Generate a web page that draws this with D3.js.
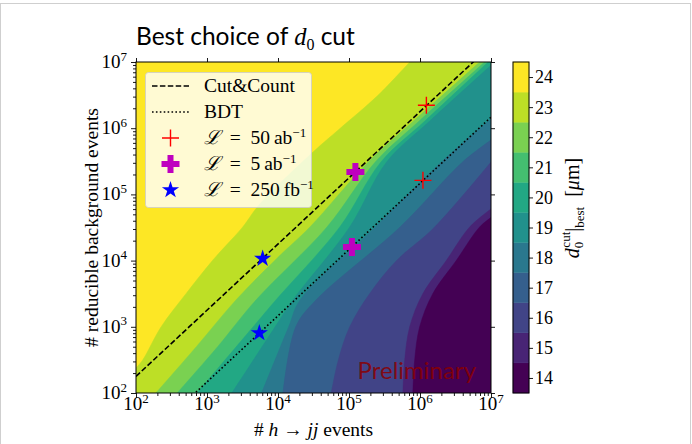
<!DOCTYPE html>
<html>
<head>
<meta charset="utf-8">
<script src="https://cdn.jsdelivr.net/npm/d3@7"></script>
<style>
  body { margin: 0; background: #fff; }
  svg { display: block; }
</style>
</head>
<body>
<svg id="chart" width="692" height="444"></svg>
<script>
// Best d0 cut (micrometres) as a function of signal and background yields.
const levels = [14, 15, 16, 17, 18, 19, 20, 21, 22, 23, 24];
const decadeExponents = [2, 3, 4, 5, 6, 7];

// Band edges as [log10 N(h->jj), log10 N(background)] pairs.
// edgeK separates level K (upper left) from level K-1 (lower right).
const edge24 = [[2.0, 2.378], [2.094, 2.498], [2.352, 2.997], [2.704, 3.5], [3.08, 4.005], [3.503, 4.508], [3.732, 4.84], [4.493, 5.64], [4.869, 5.992], [5.408, 6.497], [5.855, 7.0]];
const edge23 = [[2.28, 2.0], [2.85, 2.7], [3.408, 3.405], [4.0, 4.05], [4.45, 4.508], [5.27, 5.49], [5.92, 6.12], [6.84, 7.0]];
const edge22 = [[2.58, 2.0], [3.15, 2.7], [3.69, 3.405], [4.69, 4.508], [5.37, 5.49], [6.0, 6.12], [6.91, 7.0]];
const edge21 = [[2.86, 2.0], [3.65, 3.0], [3.97, 3.405], [4.87, 4.508], [5.45, 5.49], [6.08, 6.12], [6.96, 7.0]];
const edge20 = [[3.35, 2.0], [3.96, 3.0], [4.21, 3.405], [5.01, 4.508], [5.53, 5.49], [6.15, 6.12], [7.0, 6.95]];
const edge19 = [[3.77, 2.0], [4.15, 3.0], [4.31, 3.405], [5.37, 4.508], [6.3, 5.49], [7.0, 6.14]];
const edge18 = [[4.07, 2.0], [4.25, 3.0], [4.535, 3.405], [5.72, 4.508], [6.6, 5.49], [7.0, 5.82]];
const edge17 = [[4.75, 2.0], [4.85, 2.5], [5.01, 3.0], [5.29, 3.5], [5.67, 4.0], [6.2, 4.5], [7.0, 5.49]];
const edge16 = [[5.76, 2.0], [5.785, 2.5], [5.855, 3.0], [6.04, 3.5], [6.37, 4.0], [6.7, 4.508], [7.0, 4.78]];
const edge15 = [[5.9, 2.0], [5.925, 2.5], [5.995, 3.0], [6.18, 3.5], [6.51, 4.0], [6.84, 4.508], [7.0, 4.65]];

// Working points: signal and background yields for each luminosity.
const lumiValues = ["50", "5", "250"];
const lumiUnits = ["ab", "ab", "fb"];
const cutCountSignal = [1.23e6, 1.23e5, 6080];
const cutCountBackground = [2.22e6, 2.18e5, 1.07e4];
const bdtSignal = [1.10e6, 1.10e5, 5460];
const bdtBackground = [1.63e5, 1.60e4, 806];
// background per signal event along each selection
const cutCountRatio = 1.78;
const bdtRatio = 0.147;

const plot = { x0: 136, x1: 491, y0: 62, y1: 393 };
const serif = "'Liberation Serif', 'DejaVu Serif', serif";

const svg = d3.select("#chart");

// light frame round the figure
svg.append("rect")
  .attr("x", 0.5).attr("y", 3.5).attr("width", 690).attr("height", 445)
  .attr("fill", "none").attr("stroke", "#cfcfcf").attr("stroke-width", 1);

const x = d3.scaleLog().domain([1e2, 1e7]).range([plot.x0, plot.x1]);
const y = d3.scaleLog().domain([1e2, 1e7]).range([plot.y1, plot.y0]);
const color = v => d3.interpolateViridis((v - levels[0]) / (levels[levels.length - 1] - levels[0]));
const pow10 = e => Math.pow(10, e);

svg.append("defs").append("clipPath").attr("id", "plotClip")
  .append("rect")
  .attr("x", plot.x0).attr("y", plot.y0)
  .attr("width", plot.x1 - plot.x0).attr("height", plot.y1 - plot.y0);

const field = svg.append("g").attr("clip-path", "url(#plotClip)");

// highest level fills the whole panel, lower bands are laid on top
field.append("rect")
  .attr("x", plot.x0).attr("y", plot.y0)
  .attr("width", plot.x1 - plot.x0).attr("height", plot.y1 - plot.y0)
  .attr("fill", color(24));

const edgeLine = d3.line()
  .x(d => x(pow10(d[0])))
  .y(d => y(pow10(d[1])))
  .curve(d3.curveCatmullRom.alpha(0.5));

const [uMin, uMax] = x.domain().map(Math.log10);
const [vMin, vMax] = y.domain().map(Math.log10);

function bandBelow(edge) {
  const first = edge[0], last = edge[edge.length - 1];
  const corners = [];
  if (last[1] >= vMax) corners.push([uMax, vMax]);
  corners.push([uMax, vMin]);
  if (first[0] <= uMin) corners.push([uMin, vMin]);
  return edgeLine(edge) +
    corners.map(c => `L${x(pow10(c[0]))},${y(pow10(c[1]))}`).join("") + "Z";
}

const bands = [
  { level: 23, edge: edge24 }, { level: 22, edge: edge23 }, { level: 21, edge: edge22 },
  { level: 20, edge: edge21 }, { level: 19, edge: edge20 }, { level: 18, edge: edge19 },
  { level: 17, edge: edge18 }, { level: 16, edge: edge17 }, { level: 15, edge: edge16 },
  { level: 14, edge: edge15 }
];

field.selectAll("path.band")
  .data(bands)
  .join("path")
  .attr("class", "band")
  .attr("d", d => bandBelow(d.edge))
  .attr("fill", d => color(d.level))
  .attr("stroke", d => color(d.level))
  .attr("stroke-width", 0.5);

// selection lines
const lineX = x.domain();
const selLine = d3.line().x(d => x(d[0])).y(d => y(d[1]));
field.append("path")
  .attr("d", selLine(lineX.map(v => [v, v * cutCountRatio])))
  .attr("fill", "none").attr("stroke", "#000").attr("stroke-width", 1.6)
  .attr("stroke-dasharray", "5.5,2.4");
field.append("path")
  .attr("d", selLine(lineX.map(v => [v, v * bdtRatio])))
  .attr("fill", "none").attr("stroke", "#000").attr("stroke-width", 1.6)
  .attr("stroke-dasharray", "1.6,2.3");

// marker shapes
const markers = [
  { name: "thinPlus", color: "#ff0000" },
  { name: "fatPlus", color: "#bf00bf" },
  { name: "star", color: "#0000ff" }
];
function drawMarker(g, kind, cx, cy) {
  if (kind === "thinPlus") {
    const h = 8.5;
    g.append("path")
      .attr("d", `M${cx - h},${cy}H${cx + h}M${cx},${cy - h}V${cy + h}`)
      .attr("stroke", markers[0].color).attr("stroke-width", 1.4).attr("fill", "none");
  } else if (kind === "fatPlus") {
    g.append("path")
      .attr("transform", `translate(${cx},${cy})`)
      .attr("d", d3.symbol(d3.symbolCross, 180)())
      .attr("fill", markers[1].color);
  } else {
    g.append("path")
      .attr("transform", `translate(${cx},${cy})`)
      .attr("d", d3.symbol(d3.symbolStar, 92)())
      .attr("fill", markers[2].color);
  }
}

const pts = field.append("g");
markers.forEach((m, i) => {
  drawMarker(pts, m.name, x(cutCountSignal[i]), y(cutCountBackground[i]));
  drawMarker(pts, m.name, x(bdtSignal[i]), y(bdtBackground[i]));
});

// frame
svg.append("rect")
  .attr("x", plot.x0).attr("y", plot.y0)
  .attr("width", plot.x1 - plot.x0).attr("height", plot.y1 - plot.y0)
  .attr("fill", "none").attr("stroke", "#000").attr("stroke-width", 1);

// axes
const majors = decadeExponents.map(pow10);
const minors = x.ticks().filter(v => !majors.some(m => Math.abs(m - v) / m < 1e-9));

function styleAxis(g) {
  g.select(".domain").remove();
  g.selectAll(".tick line").attr("stroke", "#000").attr("stroke-width", 0.9);
  g.selectAll(".tick text").remove();
}

svg.append("g").attr("transform", `translate(0,${plot.y1})`)
  .call(d3.axisBottom(x).tickValues(majors).tickSize(5).tickFormat("")).call(styleAxis);
svg.append("g").attr("transform", `translate(0,${plot.y1})`)
  .call(d3.axisBottom(x).tickValues(minors).tickSize(3).tickFormat("")).call(styleAxis);
svg.append("g").attr("transform", `translate(${plot.x0},0)`)
  .call(d3.axisLeft(y).tickValues(majors).tickSize(5).tickFormat("")).call(styleAxis);
svg.append("g").attr("transform", `translate(${plot.x0},0)`)
  .call(d3.axisLeft(y).tickValues(minors).tickSize(3).tickFormat("")).call(styleAxis);
svg.append("g").attr("transform", `translate(0,${plot.y0})`)
  .call(d3.axisTop(x).tickValues(majors).tickSize(4).tickFormat("")).call(styleAxis);
svg.append("g").attr("transform", `translate(${plot.x1},0)`)
  .call(d3.axisRight(y).tickValues(majors).tickSize(4).tickFormat("")).call(styleAxis);

function powerText(sel, e) {
  sel.append("tspan").text("10");
  sel.append("tspan").attr("dy", -7.5).attr("font-size", 13).text(e);
}

svg.append("g").selectAll("text")
  .data(decadeExponents)
  .join("text")
  .attr("x", e => x(pow10(e)))
  .attr("y", plot.y1 + 17)
  .attr("text-anchor", "middle")
  .attr("font-family", serif).attr("font-size", 19)
  .each(function (e) { powerText(d3.select(this), e); });

svg.append("g").selectAll("text")
  .data(decadeExponents)
  .join("text")
  .attr("x", plot.x0 - 9)
  .attr("y", e => y(pow10(e)) + 6)
  .attr("text-anchor", "end")
  .attr("font-family", serif).attr("font-size", 19)
  .each(function (e) { powerText(d3.select(this), e); });

// axis titles
const xt = svg.append("text")
  .attr("x", (plot.x0 + plot.x1) / 2).attr("y", 436)
  .attr("text-anchor", "middle")
  .attr("font-family", serif).attr("font-size", 19.5);
xt.append("tspan").text("# ");
xt.append("tspan").attr("font-style", "italic").text("h");
xt.append("tspan").text(" \u2192 ");
xt.append("tspan").attr("font-style", "italic").text("jj");
xt.append("tspan").text(" events");

svg.append("text")
  .attr("transform", `translate(98,${(plot.y0 + plot.y1) / 2}) rotate(-90)`)
  .attr("text-anchor", "middle")
  .attr("font-family", serif).attr("font-size", 19.5)
  .text("# reducible background events");

// title
const tt = svg.append("text")
  .attr("x", plot.x0).attr("y", 45)
  .attr("font-family", "Lato, 'DejaVu Sans', sans-serif").attr("font-size", 24.5);
tt.append("tspan").text("Best choice of ");
tt.append("tspan").attr("font-family", serif).attr("font-style", "italic").text("d");
tt.append("tspan").attr("font-family", serif).attr("font-size", 16).attr("dy", 5).text("0");
tt.append("tspan").attr("dy", -5).text(" cut");

// colour bar
const cb = { x: 513, w: 16 };
const cbScale = d3.scaleLinear()
  .domain([levels[0] - 0.5, levels[levels.length - 1] + 0.5])
  .range([plot.y1, plot.y0]);

svg.append("g").selectAll("rect")
  .data(levels)
  .join("rect")
  .attr("x", cb.x)
  .attr("y", d => cbScale(d + 0.5))
  .attr("width", cb.w)
  .attr("height", d => cbScale(d - 0.5) - cbScale(d + 0.5))
  .attr("fill", d => color(d))
  .attr("stroke", d => color(d)).attr("stroke-width", 0.4);

svg.append("rect")
  .attr("x", cb.x).attr("y", plot.y0)
  .attr("width", cb.w).attr("height", plot.y1 - plot.y0)
  .attr("fill", "none").attr("stroke", "#000").attr("stroke-width", 1);

const cbAxis = svg.append("g").attr("transform", `translate(${cb.x + cb.w},0)`)
  .call(d3.axisRight(cbScale).tickValues(levels).tickSize(4).tickFormat(d3.format("d")));
cbAxis.select(".domain").remove();
cbAxis.selectAll(".tick line").attr("stroke", "#000").attr("stroke-width", 0.9);
cbAxis.selectAll(".tick text")
  .attr("x", 6).attr("dy", "0.33em")
  .attr("fill", "#000")
  .attr("font-family", serif).attr("font-size", 18);

const cl = svg.append("text")
  .attr("transform", `translate(579,208) rotate(-90)`)
  .attr("text-anchor", "middle")
  .attr("font-family", serif).attr("font-size", 20);
cl.append("tspan").attr("font-style", "italic").text("d");
cl.append("tspan").attr("font-size", 13).attr("dy", 4).text("0");
cl.append("tspan").attr("font-size", 13).attr("dx", -6).attr("dy", -13).text("cut");
cl.append("tspan").attr("dy", 9).text("|");
cl.append("tspan").attr("font-size", 13).attr("dy", 5).text("best");
cl.append("tspan").attr("dy", -5).text("\u2002[");
cl.append("tspan").attr("font-style", "italic").text("\u03bc");
cl.append("tspan").text("m]");

// legend
const lg = svg.append("g");
lg.append("rect")
  .attr("x", 145.5).attr("y", 72.5).attr("width", 166).attr("height", 135).attr("rx", 3)
  .attr("fill", "#fff").attr("fill-opacity", 0.8)
  .attr("stroke", "#cccccc").attr("stroke-opacity", 0.8);

const rowY = i => 86 + i * 26;
lg.append("line").attr("x1", 152).attr("x2", 189).attr("y1", rowY(0)).attr("y2", rowY(0))
  .attr("stroke", "#000").attr("stroke-width", 1.6).attr("stroke-dasharray", "5.5,2.4");
lg.append("line").attr("x1", 152).attr("x2", 189).attr("y1", rowY(1)).attr("y2", rowY(1))
  .attr("stroke", "#000").attr("stroke-width", 1.6).attr("stroke-dasharray", "1.6,2.3");
markers.forEach((m, i) => drawMarker(lg, m.name, 170.5, rowY(i + 2)));

const legendText = (i) => lg.append("text")
  .attr("x", 204).attr("y", rowY(i) + 6)
  .attr("font-family", serif).attr("font-size", 19.5);
legendText(0).text("Cut&Count");
legendText(1).text("BDT");
lumiValues.forEach((v, i) => {
  const t = legendText(i + 2);
  t.append("tspan").attr("font-family", "'DejaVu Serif', serif").attr("font-style", "italic").text("\u2112");
  t.append("tspan").text("\u2002=\u2002" + v + "\u2009" + lumiUnits[i]);
  t.append("tspan").attr("font-size", 13).attr("dy", -7.5).text("\u22121");
});

// watermark
svg.append("text")
  .attr("x", 476).attr("y", 379)
  .attr("text-anchor", "end")
  .attr("font-family", "Lato, sans-serif").attr("font-size", 24)
  .attr("fill", "#8b0000").attr("fill-opacity", 0.85)
  .text("Preliminary");
</script>
</body>
</html>
